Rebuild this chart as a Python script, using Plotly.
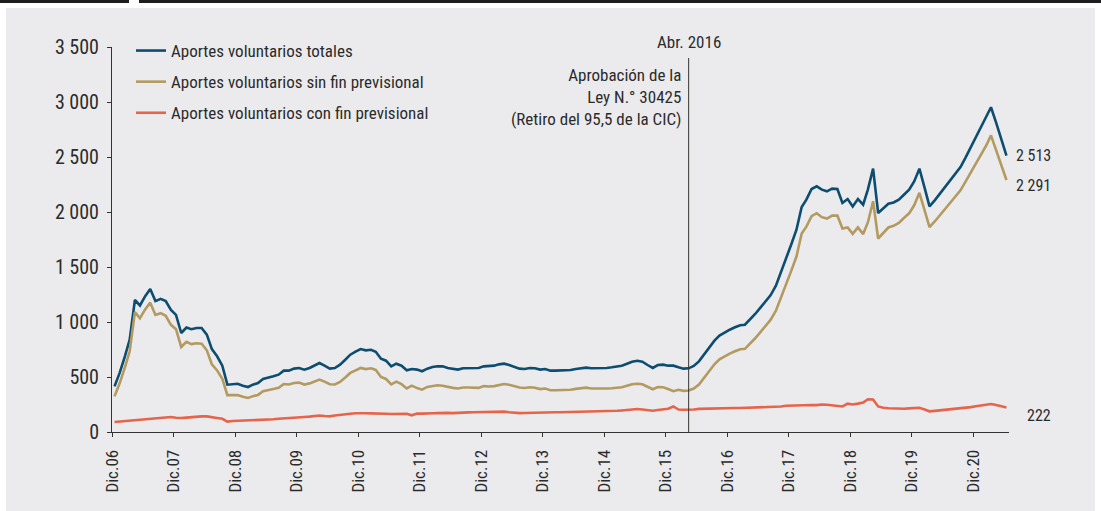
import pandas as pd
import plotly.graph_objects as go

# ---------------- data (monthly, Dec 2006 - Jun 2021, millions) ----------------
totales = [
    415, 540, 690, 840, 1200, 1150, 1235, 1300, 1190, 1210, 1190, 1110, 1065, 900, 950, 935,
    945, 945, 885, 754, 688, 603, 430, 436, 439, 421, 409, 430, 445, 482, 491, 506,
    521, 558, 558, 576, 582, 567, 582, 603, 627, 603, 576, 582, 612, 657, 703, 730,
    754, 742, 748, 730, 666, 648, 597, 621, 603, 561, 573, 567, 552, 576, 591, 597,
    597, 582, 573, 567, 579, 582, 582, 582, 597, 597, 603, 615, 621, 609, 591, 576,
    573, 582, 579, 567, 573, 558, 558, 558, 558, 564, 573, 579, 585, 579, 579, 579,
    582, 588, 594, 603, 621, 639, 648, 639, 609, 582, 609, 612, 603, 603, 588, 576,
    579, 600, 642, 703, 768, 830, 876, 906, 930, 952, 970, 975, 1021, 1073, 1130, 1185,
    1245, 1330, 1450, 1581, 1705, 1839, 2045, 2112, 2209, 2233, 2203, 2188, 2212, 2209, 2082, 2118,
    2051, 2118, 2067, 2203, 2394, 1991, 2033, 2075, 2087, 2112, 2157, 2203, 2278, 2394, 2220, 2051,
    2106, 2166, 2227, 2288, 2348, 2409, 2494, 2585, 2673, 2764, 2855, 2952, 2810, 2658, 2513,
]
sin_fin = [
    324, 445, 590, 734, 1090, 1034, 1115, 1176, 1064, 1080, 1057, 974, 935, 773, 819, 799,
    807, 803, 743, 616, 560, 483, 335, 336, 337, 321, 309, 326, 337, 370, 377, 390,
    401, 436, 432, 446, 449, 431, 442, 461, 477, 458, 434, 432, 455, 495, 537, 560,
    582, 572, 579, 564, 500, 482, 433, 458, 435, 396, 421, 399, 385, 410, 421, 425,
    421, 408, 401, 395, 404, 404, 402, 401, 417, 413, 417, 428, 436, 429, 416, 404,
    400, 407, 403, 390, 395, 380, 379, 379, 378, 384, 392, 398, 403, 396, 394, 393,
    395, 398, 401, 407, 421, 434, 439, 434, 411, 389, 409, 407, 391, 371, 384, 374,
    377, 395, 432, 491, 555, 616, 661, 690, 713, 734, 752, 756, 801, 852, 908, 962,
    1021, 1102, 1218, 1343, 1465, 1595, 1805, 1867, 1963, 1989, 1953, 1940, 1968, 1967, 1850, 1860,
    1801, 1860, 1799, 1905, 2098, 1759, 1813, 1859, 1874, 1900, 1945, 1988, 2061, 2174, 2015, 1863,
    1914, 1970, 2027, 2083, 2140, 2197, 2276, 2359, 2439, 2522, 2605, 2697, 2565, 2425, 2291,
]
con_fin = [
    91, 95, 100, 106, 110, 116, 120, 124, 126, 130, 133, 136, 130, 127, 131, 136,
    138, 142, 142, 138, 128, 120, 95, 100, 102, 100, 100, 104, 108, 112, 114, 116,
    120, 122, 126, 130, 133, 136, 140, 142, 150, 145, 142, 150, 157, 162, 166, 170,
    172, 170, 169, 166, 166, 166, 164, 163, 168, 165, 152, 168, 167, 166, 170, 172,
    176, 174, 172, 172, 175, 178, 180, 181, 180, 184, 186, 187, 185, 180, 175, 172,
    173, 175, 176, 177, 178, 178, 179, 179, 180, 180, 181, 181, 182, 183, 185, 186,
    187, 190, 193, 196, 200, 205, 209, 205, 198, 193, 200, 205, 212, 232, 204, 202,
    202, 205, 210, 212, 213, 214, 215, 216, 217, 218, 218, 219, 220, 221, 222, 223,
    224, 228, 232, 238, 240, 244, 240, 245, 246, 244, 250, 248, 244, 242, 232, 258,
    250, 258, 268, 298, 296, 232, 220, 216, 213, 212, 212, 215, 217, 220, 205, 188,
    192, 196, 200, 205, 208, 212, 218, 226, 234, 242, 250, 255, 245, 233, 222,
]
series_names = [
    "Aportes voluntarios totales",
    "Aportes voluntarios sin fin previsional",
    "Aportes voluntarios con fin previsional",
]
end_labels = ["2 513", "2 291", "222"]
tick_years = list(range(2006, 2021))
tick_labels = ["Dic.%02d" % (y % 100) for y in tick_years]
y_ticks = [0, 500, 1000, 1500, 2000, 2500, 3000, 3500]
y_tick_labels = ["0", "500", "1 000", "1 500", "2 000", "2 500", "3 000", "3 500"]
event_date = "2016-04-16"
event_title = "Abr. 2016"
event_text = "Aprobación de la<br>Ley N.° 30425<br>(Retiro del 95,5 de la CIC)"

# ---------------- figure ----------------
x_dates = [d.strftime("%Y-%m-16") for d in pd.date_range("2006-12-01", periods=len(totales), freq="MS")]

colors = ["#0d4d70", "#b39a60", "#e5644a"]
FONT = "Liberation Sans Narrow, Roboto Condensed, Arial Narrow, sans-serif"
TXT = "#2b2b2b"

fig = go.Figure()
for vals, name, col, grp in zip([totales, sin_fin, con_fin], series_names, colors, ["a", "b", "c"]):
    fig.add_trace(go.Scatter(
        x=x_dates, y=vals, name=name, mode="lines", legendgroup=grp,
        line=dict(color=col, width=2.6),
    ))

W, H = 1101, 511
L, R, T, B = 112, 92, 47, 79
pw, ph = W - L - R, H - T - B


def px_x(px):
    return (px - L) / pw


def px_y(py):
    return (H - B - py) / ph


shapes = [
    # grey panel
    dict(type="rect", xref="paper", yref="paper", layer="below",
         x0=px_x(6), x1=px_x(1095), y0=px_y(512), y1=px_y(8),
         fillcolor="#ebebed", line=dict(width=0)),
    # top dark rule with notch
    dict(type="rect", xref="paper", yref="paper",
         x0=px_x(-2), x1=px_x(129), y0=px_y(3), y1=px_y(-2),
         fillcolor="#1e1e1e", line=dict(width=0)),
    dict(type="rect", xref="paper", yref="paper",
         x0=px_x(139), x1=px_x(1103), y0=px_y(3), y1=px_y(-2),
         fillcolor="#1e1e1e", line=dict(width=0)),
    # event line
    dict(type="line", xref="x", yref="paper", x0=event_date, x1=event_date,
         y0=0, y1=px_y(58), line=dict(color="#333333", width=1)),
]

annotations = [
    dict(xref="x", yref="paper", x=event_date, y=px_y(42), text=event_title,
         showarrow=False, xanchor="center", yanchor="middle",
         font=dict(family=FONT, size=17, color=TXT)),
    dict(xref="paper", yref="paper", x=px_x(683), y=px_y(97), text=event_text,
         showarrow=False, xanchor="right", yanchor="middle", align="right",
         font=dict(family=FONT, size=17, color=TXT)),
]
for lab, py in zip(end_labels, [155, 185, 415]):
    annotations.append(dict(xref="paper", yref="paper", x=px_x(1053), y=px_y(py), text=lab,
                            showarrow=False, xanchor="right", yanchor="middle",
                            font=dict(family=FONT, size=16, color=TXT)))

fig.update_layout(
    width=W, height=H,
    margin=dict(l=L, r=R, t=T, b=B, pad=0),
    paper_bgcolor="white", plot_bgcolor="rgba(0,0,0,0)",
    font=dict(family=FONT, size=17, color=TXT),
    showlegend=True,
    legend=dict(x=px_x(131), y=px_y(33), xanchor="left", yanchor="top",
                bgcolor="rgba(0,0,0,0)", font=dict(family=FONT, size=17, color=TXT),
                tracegroupgap=6, itemwidth=30),
    shapes=shapes, annotations=annotations,
    xaxis=dict(
        type="date", range=["2006-12-01", "2021-07-01"],
        tickvals=["%d-12-01" % y for y in tick_years], ticktext=tick_labels,
        tickangle=-90, ticks="outside", ticklen=4, tickcolor="#333333",
        ticklabelstandoff=6,
        showline=True, linecolor="#333333", linewidth=1, showgrid=False,
        zeroline=False, automargin=False, tickfont=dict(family=FONT, size=17, color=TXT),
    ),
    yaxis=dict(
        range=[0, 3500], tickvals=y_ticks, ticktext=y_tick_labels,
        ticks="outside", ticklen=4, tickcolor="#333333",
        ticklabelstandoff=4,
        showline=True, linecolor="#333333", linewidth=1, showgrid=False,
        zeroline=False, automargin=False, tickfont=dict(family=FONT, size=20, color=TXT),
    ),
)

fig.write_html(
    "out.html",
    config={"displayModeBar": False},
    post_script="document.body.style.margin='0';document.body.style.overflow='hidden';",
)
